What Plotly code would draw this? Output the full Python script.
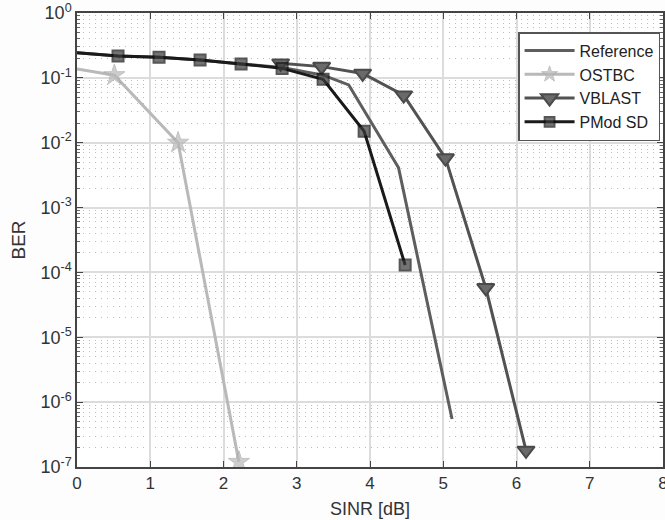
import plotly.graph_objects as go

# ---- data ----
ref_x = [0, 0.56, 1.12, 1.68, 2.24, 2.80, 3.36, 3.71, 4.39, 5.12]
ref_y = [0.245, 0.217, 0.207, 0.188, 0.164, 0.145, 0.11, 0.078, 0.0041, 5.5e-7]

ostbc_x = [0, 0.51, 1.38, 2.21]
ostbc_y = [0.137, 0.11, 0.0100, 1.2e-7]

vblast_x = [2.78, 3.34, 3.90, 4.46, 5.03, 5.58, 6.13]
vblast_y = [0.168, 0.149, 0.117, 0.054, 0.0058, 5.8e-5, 1.8e-7]

pmod_x = [0, 0.56, 1.12, 1.68, 2.24, 2.80, 3.36, 3.92, 4.48]
pmod_y = [0.245, 0.217, 0.207, 0.188, 0.164, 0.140, 0.095, 0.015, 1.3e-4]

x_ticks = [0, 1, 2, 3, 4, 5, 6, 7, 8]
y_tickvals = [1e-7, 1e-6, 1e-5, 1e-4, 1e-3, 1e-2, 1e-1, 1]
y_ticktext = ["10<sup>-7</sup>", "10<sup>-6</sup>", "10<sup>-5</sup>", "10<sup>-4</sup>",
              "10<sup>-3</sup>", "10<sup>-2</sup>", "10<sup>-1</sup>", "10<sup>0</sup>"]
y_minor = [m * d for d in y_tickvals[:-1] for m in range(2, 10)]

FONT = "Liberation Sans, Arial, Helvetica, sans-serif"

fig = go.Figure()
fig.add_trace(go.Scatter(x=ref_x, y=ref_y, name="Reference", mode="lines",
                         line=dict(color="#5e5e5e", width=3)))
fig.add_trace(go.Scatter(x=ostbc_x, y=ostbc_y, name="OSTBC", mode="lines+markers",
                         line=dict(color="#b9b9b9", width=3),
                         marker=dict(symbol="star", size=[0, 16, 16, 16], color="#b9b9b9",
                                     line=dict(color="#a8a8a8", width=1))))
fig.add_trace(go.Scatter(x=vblast_x, y=vblast_y, name="VBLAST", mode="lines+markers",
                         line=dict(color="#525252", width=3),
                         marker=dict(symbol="triangle-down", size=15, color="#6a6a6a",
                                     line=dict(color="#4a4a4a", width=2))))
fig.add_trace(go.Scatter(x=pmod_x, y=pmod_y, name="PMod SD", mode="lines+markers",
                         line=dict(color="#1a1a1a", width=3),
                         marker=dict(symbol="square", size=[0] + [11] * 8, color="#3a3a3a",
                                     line=dict(color="#111111", width=2))))

fig.update_layout(
    width=665, height=520,
    margin=dict(l=77, r=2, t=13, b=53),
    paper_bgcolor="#fdfdfd", plot_bgcolor="white",
    font=dict(family=FONT, size=16, color="#333333"),
    legend=dict(x=0.995, xanchor="right", y=0.958, yanchor="top",
                bgcolor="white", bordercolor="#555555", borderwidth=1.5,
                font=dict(size=16, color="#222222"), tracegroupgap=0,
                itemwidth=50),
    showlegend=True,
)
fig.update_xaxes(
    range=[0, 8], tickvals=x_ticks, ticks="inside", ticklen=6, tickcolor="#444444",
    showline=True, linecolor="#444444", linewidth=1.5, mirror="ticks",
    showgrid=True, gridcolor="#dcdcdc", gridwidth=1.5, zeroline=False,
    automargin=False, ticklabeloverflow="allow",
    title=dict(text="SINR [dB]", font=dict(size=18, color="#333333"), standoff=10),
    tickfont=dict(size=17),
)
fig.update_yaxes(
    type="log", range=[-7, 0], tickvals=y_tickvals, ticktext=y_ticktext,
    ticks="inside", ticklen=6, tickcolor="#444444",
    showline=True, linecolor="#444444", linewidth=1.5, mirror="ticks",
    showgrid=True, gridcolor="#dcdcdc", gridwidth=1.5, zeroline=False,
    automargin=False, ticklabeloverflow="allow",
    minor=dict(tickvals=y_minor, ticks="inside", ticklen=3, tickcolor="#666666",
               showgrid=True, gridcolor="#bdbdbd", griddash="1px,5px", gridwidth=1),
    title=dict(text="BER", font=dict(size=19, color="#333333"), standoff=10),
    tickfont=dict(size=18),
)

fig.write_html("out.html", config={"displayModeBar": False},
               post_script="document.body.style.margin='0';")
